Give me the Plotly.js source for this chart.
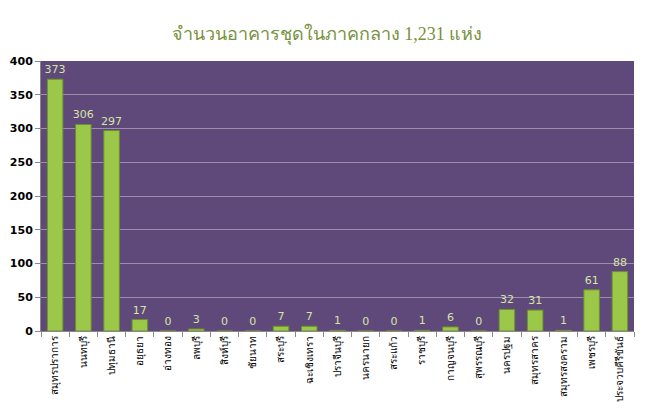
<!DOCTYPE html>
<html><head><meta charset="utf-8">
<script src="https://cdn.plot.ly/plotly-3.0.1.min.js"></script>
<style>body{margin:0;background:#fff}#c{width:654px;height:419px}</style>
</head><body><div id="c"></div>
<script>
const provinces = ["สมุทรปราการ","นนทบุรี","ปทุมธานี","อยุธยา","อ่างทอง","ลพบุรี","สิงห์บุรี","ชัยนาท","สระบุรี","ฉะเชิงเทรา","ปราจีนบุรี","นครนายก","สระแก้ว","ราชบุรี","กาญจนบุรี","สุพรรณบุรี","นครปฐม","สมุทรสาคร","สมุทรสงคราม","เพชรบุรี","ประจวบคีรีขันธ์"];
const counts = [373,306,297,17,0,3,0,0,7,7,1,0,0,1,6,0,32,31,1,61,88];
const yTicks = [0,50,100,150,200,250,300,350,400];

Plotly.newPlot('c',[{
  type:'bar', x:provinces, y:counts,
  width:0.55,
  marker:{color:'#9BC848', line:{color:'#6E8F2C', width:1}},
  text:counts.map(String), textposition:'outside', cliponaxis:false, constraintext:'none',
  textfont:{family:'Verdana, DejaVu Sans, sans-serif', size:11, color:'#D8E4A4'}
}],{
  width:654, height:419,
  margin:{l:41, r:20, t:61, b:88},
  paper_bgcolor:'#ffffff', plot_bgcolor:'#5E497A',
  title:{text:'จำนวนอาคารชุดในภาคกลาง 1,231 แห่ง', x:0.5, xanchor:'center', y:0.935,
    font:{family:'Times New Roman, Liberation Serif, serif', size:18, color:'#76923C'}},
  showlegend:false,
  xaxis:{type:'category', tickangle:-90, tickson:'boundaries', ticks:'outside', ticklen:5,
    tickcolor:'#888', showline:true, linecolor:'#888', showgrid:false,
    tickfont:{family:'Tahoma, DejaVu Sans, sans-serif', size:10, color:'#000'}},
  yaxis:{range:[0,400], tickvals:yTicks, ticks:'outside', ticklen:5, tickcolor:'#888',
    showline:true, linecolor:'#888', gridcolor:'#9A8FAE', gridwidth:1, zeroline:false,
    tickfont:{family:'Verdana, DejaVu Sans, sans-serif', size:11, color:'#000', weight:'bold'}}
},{displayModeBar:false, staticPlot:true});
</script></body></html>
